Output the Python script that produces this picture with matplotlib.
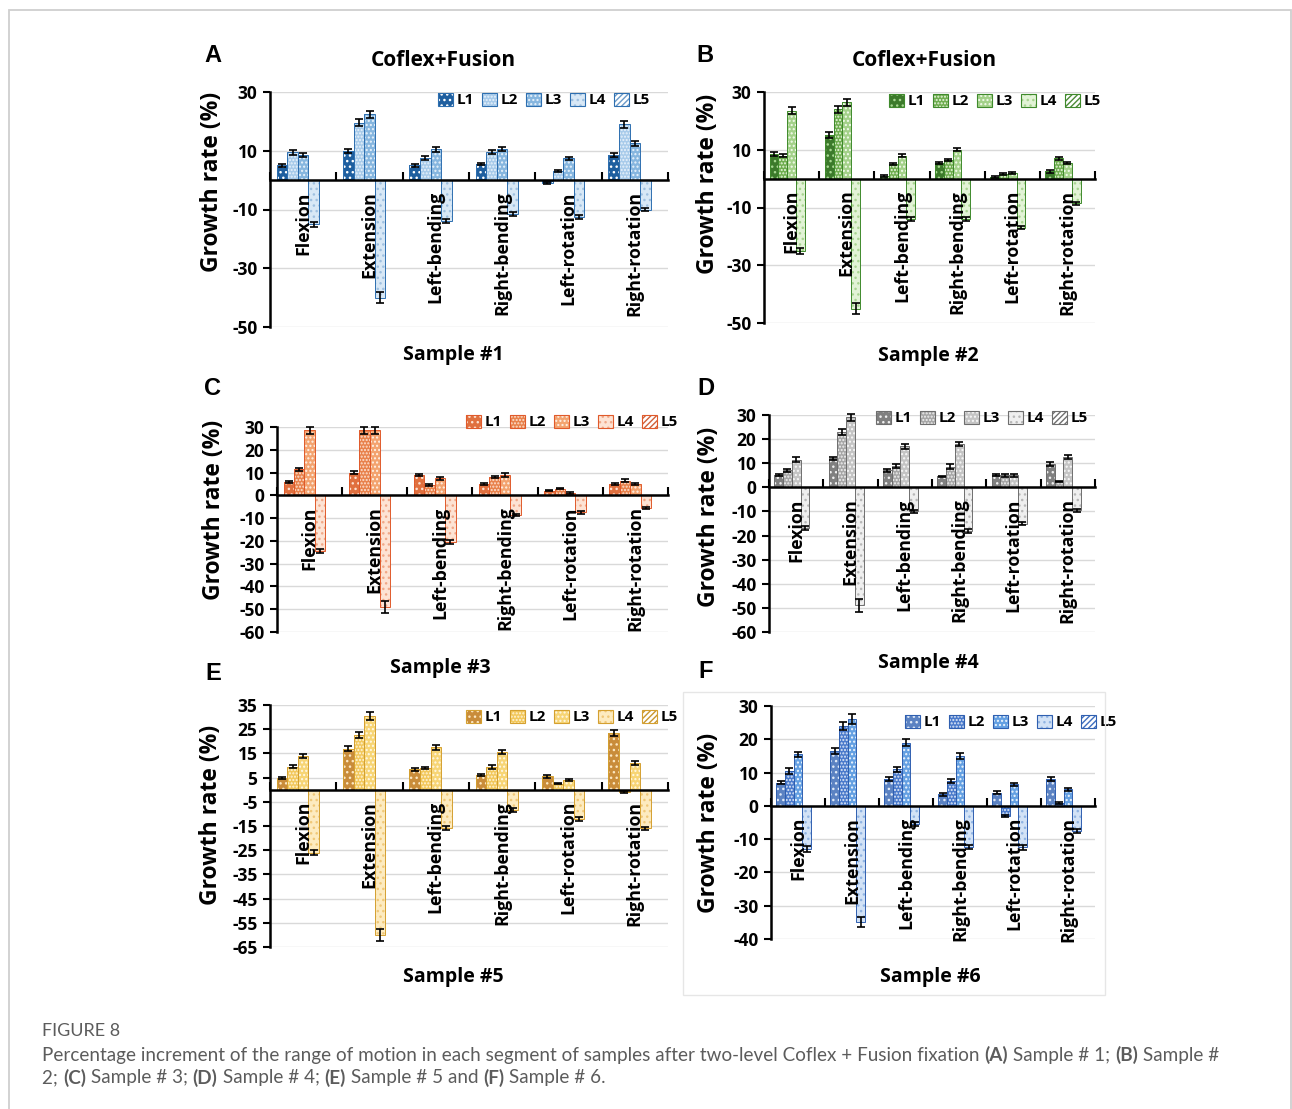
import matplotlib
matplotlib.use('Agg')
import matplotlib.pyplot as plt
import numpy as np
from matplotlib.patches import Patch, Rectangle

# ---------------- data ----------------
categories = ["Flexion", "Extension", "Left-bending", "Right-bending", "Left-rotation", "Right-rotation"]
levels = ["L1", "L2", "L3", "L4", "L5"]

# Sample #1
s1_vals = [[5, 10, 5, 5.5, -1, 8.5],
           [9.5, 19.5, 7.5, 9.5, 3, 19],
           [8.5, 22.5, 10.5, 10.5, 7.5, 12.5],
           [-15, -40, -14, -11.5, -12.5, -10],
           [0, 0, 0, 0, 0, 0]]
s1_err = [[0.5, 0.6, 0.4, 0.5, 0.4, 0.6],
          [0.8, 1.2, 0.6, 0.6, 0.3, 1.2],
          [0.6, 1.2, 0.8, 0.7, 0.5, 0.8],
          [0.8, 2.0, 0.6, 0.6, 0.6, 0.6],
          [0, 0, 0, 0, 0, 0]]
# Sample #2
s2_vals = [[8.5, 15, 1, 5.5, 0.5, 2.5],
           [8, 24, 5, 6.5, 1.5, 7],
           [23.5, 26.5, 8, 10, 2, 5.5],
           [-25, -45, -14, -14, -17, -8.5],
           [0, 0, 0, 0, 0, 0]]
s2_err = [[0.8, 1.0, 0.3, 0.4, 0.3, 0.4],
          [0.5, 1.2, 0.4, 0.4, 0.3, 0.4],
          [1.2, 1.2, 0.5, 0.6, 0.3, 0.4],
          [1.0, 2.0, 0.6, 0.6, 0.6, 0.5],
          [0, 0, 0, 0, 0, 0]]
# Sample #3
s3_vals = [[6, 10, 9, 5, 2, 5],
           [11.5, 28.5, 4.5, 8, 3, 6.5],
           [28.5, 28.5, 7.5, 9, 1, 5],
           [-24.5, -49, -20.5, -8.5, -7.5, -5.5],
           [0, 0, 0, 0, 0, 0]]
s3_err = [[0.5, 0.6, 0.5, 0.5, 0.3, 0.4],
          [0.6, 1.5, 0.5, 0.5, 0.3, 0.5],
          [1.5, 1.5, 0.6, 1.0, 0.4, 0.4],
          [1.0, 2.5, 0.8, 0.5, 0.5, 0.4],
          [0, 0, 0, 0, 0, 0]]
# Sample #4
s4_vals = [[5, 12, 7, 4.5, 5, 9.5],
           [7, 23, 9, 8.5, 5, 2.5],
           [11.5, 29, 17, 18, 5, 12.5],
           [-17, -49, -10, -18, -15, -9.5],
           [0, 0, 0, 0, 0, 0]]
s4_err = [[0.4, 0.6, 0.6, 0.4, 0.4, 0.8],
          [0.6, 1.2, 0.8, 1.0, 0.6, 0.3],
          [1.0, 1.5, 1.0, 1.0, 0.6, 0.8],
          [0.8, 2.5, 0.8, 0.8, 0.8, 0.6],
          [0, 0, 0, 0, 0, 0]]
# Sample #5
s5_vals = [[5, 17, 8.5, 6, 5.5, 23.5],
           [9.5, 22.5, 9, 9.5, 2.5, -1],
           [14, 30.5, 17.5, 15.5, 4, 11],
           [-26, -60, -16, -8.5, -12, -16],
           [0, 0, 0, 0, 0, 0]]
s5_err = [[0.4, 1.0, 0.6, 0.5, 0.5, 1.2],
          [0.6, 1.2, 0.5, 0.8, 0.3, 0.4],
          [0.8, 1.5, 1.0, 0.8, 0.5, 0.8],
          [1.0, 2.5, 0.8, 0.8, 0.8, 0.6],
          [0, 0, 0, 0, 0, 0]]
# Sample #6
s6_vals = [[7, 16.5, 8, 3.5, 4, 8],
           [10.5, 24, 11, 7.5, -3, 1],
           [15.5, 26, 19, 15, 6.5, 5],
           [-13, -35, -5.5, -12.5, -12.5, -7.5],
           [0, 0, 0, 0, 0, 0]]
s6_err = [[0.5, 0.8, 0.6, 0.4, 0.4, 0.6],
          [0.8, 1.2, 0.8, 0.6, 0.3, 0.3],
          [0.8, 1.5, 1.0, 1.0, 0.5, 0.4],
          [0.8, 1.5, 0.6, 0.6, 0.8, 0.6],
          [0, 0, 0, 0, 0, 0]]

s1_ticks = [30, 10, -10, -30, -50]
s2_ticks = [30, 10, -10, -30, -50]
s3_ticks = [30, 20, 10, 0, -10, -20, -30, -40, -50, -60]
s4_ticks = [30, 20, 10, 0, -10, -20, -30, -40, -50, -60]
s5_ticks = [35, 25, 15, 5, -5, -15, -25, -35, -45, -55, -65]
s6_ticks = [30, 20, 10, 0, -10, -20, -30, -40]

# ---------------- style ----------------
W, H = 1292, 1109
fig = plt.figure(figsize=(W / 100, H / 100), dpi=100)
BOLD = ['Open Sans', 'Noto Sans', 'DejaVu Sans']
plt.rcParams['font.family'] = BOLD
plt.rcParams['hatch.linewidth'] = 1.0

def fx(x):
    return x / W

def fy(y):
    return 1 - y / H

hatches = ['...', '.....', '....', '...', '//////']

palettes = {
    'blue':   dict(face=['#1f5f9f', '#a8cbea', '#86b6df', '#d8e8f6', '#ffffff'],
                   hc=['#ffffff', '#e8f2fb', '#e8f2fb', '#9fc0e0', '#6a9ac8'], edge='#2e6fb0'),
    'green':  dict(face=['#3c7a2b', '#6ead4e', '#a3d189', '#e2f3d6', '#ffffff'],
                   hc=['#a6d890', '#e8f6e0', '#f2fbec', '#a8d490', '#4c8a38'], edge='#3f8a2c'),
    'orange': dict(face=['#e0703f', '#e8824c', '#f3a36f', '#fde3d4', '#ffffff'],
                   hc=['#fde0d0', '#fde0d0', '#fff0e6', '#f0a888', '#d0603a'], edge='#e05a2b'),
    'grey':   dict(face=['#808080', '#a6a6a6', '#c4c4c4', '#efefef', '#ffffff'],
                   hc=['#f0f0f0', '#f0f0f0', '#f8f8f8', '#b8b8b8', '#707070'], edge='#6e6e6e'),
    'gold':   dict(face=['#c98c3a', '#f2c85c', '#f7d575', '#fdebc0', '#ffffff'],
                   hc=['#fbe7c0', '#fff4d8', '#fff8e6', '#f0c878', '#c8962e'], edge='#d4a030'),
    'steel':  dict(face=['#5b82c2', '#4a7acb', '#64a0e2', '#d2e2f6', '#ffffff'],
                   hc=['#dfe9f7', '#dfe9f7', '#eef5fd', '#90b4e2', '#3f6fbf'], edge='#2f5fb0'),
}


def draw_panel(box, ylim, yticks, vals, errs, pal, letter, letter_xy, title_xy,
               xlab, xlab_xy, ylab_xy, leg_xy):
    l, r, t, b = box
    ax = fig.add_axes([fx(l), fy(b), (r - l) / W, (b - t) / H])
    x = np.arange(len(categories))
    wbar = 0.16
    handles = []
    for i in range(5):
        off = (i - 2) * wbar
        v = vals[i]
        ax.bar(x + off, v, wbar, color=pal['face'][i], edgecolor='none', linewidth=0, zorder=2)
        ax.bar(x + off, v, wbar, fill=False, hatch=hatches[i], edgecolor=pal['hc'][i], linewidth=0, zorder=2.1)
        ax.bar(x + off, v, wbar, fill=False, edgecolor=pal['edge'], linewidth=0.7, zorder=2.2)
        if i < 4:
            ax.errorbar(x + off, v, yerr=errs[i], fmt='none', ecolor='black', elinewidth=1.2,
                        capsize=3, capthick=1.2, zorder=3, clip_on=False)
        h = (Patch(facecolor=pal['face'][i], edgecolor='none', linewidth=0),
             Patch(fill=False, hatch=hatches[i], edgecolor=pal['hc'][i], linewidth=0),
             Patch(fill=False, edgecolor=pal['edge'], linewidth=0.8))
        handles.append(h)

    ax.set_xlim(-0.5, len(categories) - 0.5)
    ax.set_ylim(*ylim)
    ax.set_yticks(yticks)
    ax.set_yticklabels([str(v) for v in yticks])
    ax.yaxis.grid(True, color='#d9d9d9', linewidth=1.0, zorder=0)
    ax.set_axisbelow(True)
    ax.xaxis.set_zorder(5)
    for s in ['top', 'right']:
        ax.spines[s].set_visible(False)
    ax.spines['left'].set_linewidth(1.8)
    ax.spines['bottom'].set_linewidth(1.8)
    ax.spines['bottom'].set_position(('data', 0))
    ax.spines['bottom'].set_zorder(4)
    ax.tick_params(axis='y', direction='out', length=5, width=1.5, labelsize=12.5, pad=4)
    for tl in ax.get_yticklabels():
        tl.set_fontweight('bold')
    ax.set_xticks(x)
    ax.set_xticklabels(categories, rotation=90, fontsize=12.8, fontweight='bold')
    ax.set_xticks(np.arange(-0.5, len(categories)), minor=True)
    ax.tick_params(axis='x', which='major', length=0, pad=8)
    ax.tick_params(axis='x', which='minor', direction='in', length=6, width=1.5)

    leg = ax.legend(handles, levels, loc='center', bbox_to_anchor=(fx(leg_xy[0]), fy(leg_xy[1])),
                    bbox_transform=fig.transFigure, ncol=5, frameon=False, fontsize=11,
                    handlelength=0.95, handleheight=0.95, handletextpad=0.25, columnspacing=0.55,
                    borderpad=0, borderaxespad=0)
    for tx in leg.get_texts():
        tx.set_fontweight('bold')

    fig.text(fx(letter_xy[0]), fy(letter_xy[1]), letter, fontsize=17, fontweight='bold',
             family=['Liberation Sans', 'DejaVu Sans'], ha='center', va='center')
    if title_xy is not None:
        fig.text(fx(title_xy[0]), fy(title_xy[1]), 'Coflex+Fusion', fontsize=15, fontweight='bold',
                 ha='center', va='center')
    fig.text(fx(xlab_xy[0]), fy(xlab_xy[1]), xlab, fontsize=14, fontweight='bold',
             ha='center', va='center')
    fig.text(fx(ylab_xy[0]), fy(ylab_xy[1]), 'Growth rate (%)', fontsize=16.5, fontweight='bold',
             ha='center', va='center', rotation=90)
    return ax


draw_panel((270, 668, 92, 327), (-50, 30), s1_ticks, s1_vals, s1_err, palettes['blue'],
           'A', (213, 55), (443, 60), 'Sample #1', (453, 355), (212, 182), (544, 100))
draw_panel((764, 1095, 92, 323), (-50, 30), s2_ticks, s2_vals, s2_err, palettes['green'],
           'B', (705, 55), (924, 60), 'Sample #2', (928, 356), (708, 184), (995, 101))
draw_panel((277, 668, 427, 632), (-60, 30), s3_ticks, s3_vals, s3_err, palettes['orange'],
           'C', (213, 389), None, 'Sample #3', (440, 668), (214, 510), (572, 422))
draw_panel((769, 1095, 415, 632), (-60, 30), s4_ticks, s4_vals, s4_err, palettes['grey'],
           'D', (706, 389), None, 'Sample #4', (928, 663), (709, 517), (982, 418))
draw_panel((270, 668, 705, 947), (-65, 35), s5_ticks, s5_vals, s5_err, palettes['gold'],
           'E', (213, 674), None, 'Sample #5', (453, 977), (211, 815), (572, 717))
draw_panel((771, 1095, 706, 939), (-40, 30), s6_ticks, s6_vals, s6_err, palettes['steel'],
           'F', (706, 672), None, 'Sample #6', (930, 977), (709, 823), (1011, 722))

# borders
fig.add_artist(Rectangle((fx(9), fy(1130)), (1282) / W, (1120) / H, transform=fig.transFigure,
                         fill=False, edgecolor='#cfcfcf', linewidth=1.3))
fig.add_artist(Rectangle((fx(683), fy(995)), (1105 - 683) / W, (995 - 692) / H, transform=fig.transFigure,
                         fill=False, edgecolor='#e6e6e6', linewidth=1.0))

# caption
CAP = '#5c5c5c'
CAPFONT = ['Lato', 'DejaVu Sans']
fig.text(fx(42), fy(1031), 'FIGURE 8', fontsize=13, color=CAP, ha='left', va='center', family=CAPFONT)

cap_line1 = [("Percentage increment of the range of motion in each segment of samples after two-level Coflex + Fusion fixation ", 'normal'),
             ("(A)", 'bold'), (" Sample # 1; ", 'normal'), ("(B)", 'bold'), (" Sample #", 'normal')]
cap_line2 = [("2; ", 'normal'), ("(C)", 'bold'), (" Sample # 3; ", 'normal'), ("(D)", 'bold'),
             (" Sample # 4; ", 'normal'), ("(E)", 'bold'), (" Sample # 5 and ", 'normal'),
             ("(F)", 'bold'), (" Sample # 6.", 'normal')]

renderer = fig.canvas.get_renderer()

def write_runs(runs, x0, y, size):
    x = x0
    for txt, wgt in runs:
        t = fig.text(fx(x), fy(y), txt, fontsize=size, color=CAP, fontweight=wgt, ha='left', va='center',
                     family=CAPFONT)
        bb = t.get_window_extent(renderer=renderer)
        x += bb.width

write_runs(cap_line1, 42, 1055, 13.6)
write_runs(cap_line2, 42, 1078, 13.6)

fig.savefig('out.png', dpi=100)
